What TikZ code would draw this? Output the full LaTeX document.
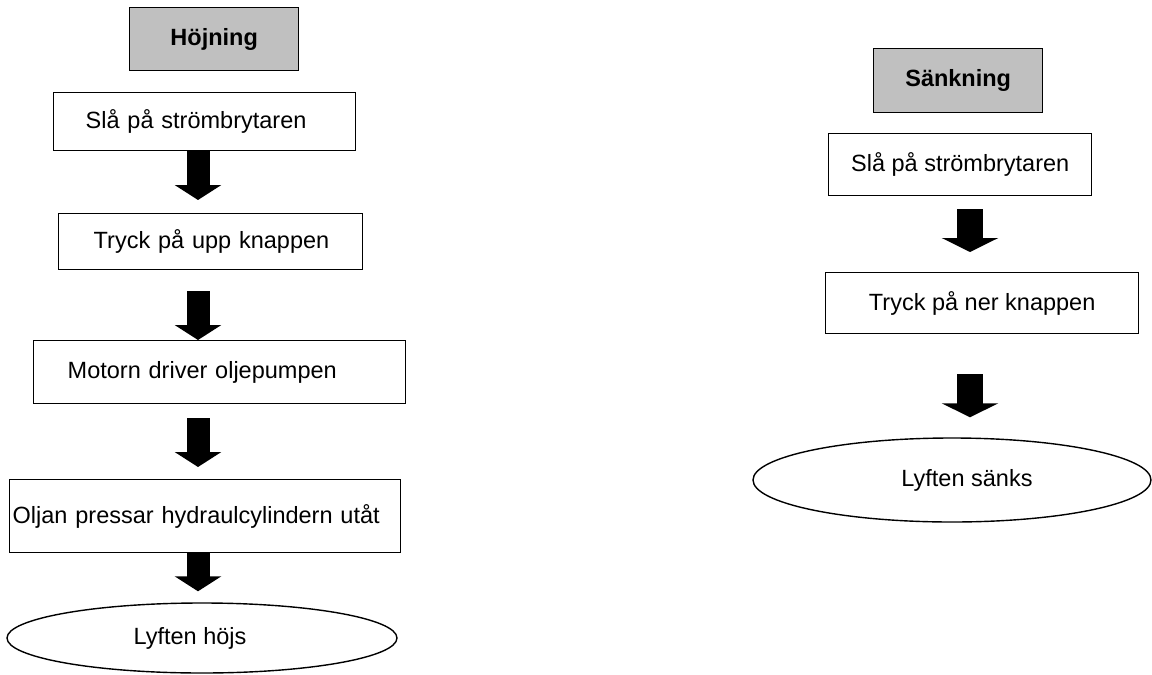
\documentclass[tikz,border=0pt]{standalone}
\usepackage{fontspec}
\setmainfont{Liberation Sans}
\usetikzlibrary{arrows.meta,shapes.geometric,calc}
\definecolor{hdrgray}{RGB}{192,192,192}
\begin{document}
\begin{tikzpicture}[x=1pt,y=-1pt,
  every node/.style={font=\fontsize{23.5}{28}\selectfont},
  box/.style={draw, line width=1.4pt, anchor=north west, inner ysep=0pt, align=left},
  cbox/.style={draw, line width=1.4pt, anchor=north west, inner sep=0pt, align=center},
  hdr/.style={draw, line width=1.4pt, anchor=north west, inner sep=0pt, fill=hdrgray, font=\fontsize{23.5}{28}\selectfont\bfseries},
  ell/.style={draw, ellipse, line width=1.4pt, inner sep=0pt},
  blkL/.style={line width=23pt, -{Triangle[width=46pt,length=15pt]}},
  blkR/.style={line width=26pt, -{Triangle[width=56pt,length=14pt]}}
]
\useasboundingbox (0,0) rectangle (1152,675);
\coordinate (lx) at (198,0);
\coordinate (rx) at (970,0);

% Left column: Höjning
\node[hdr, minimum width=169pt, minimum height=63pt] (h1) at (129,7) {Höjning};
\node[box, minimum height=58pt, inner xsep=32pt, text width=238pt] (b1) at (53,92) {Slå på strömbrytaren};
\node[box, minimum height=56pt, inner xsep=35pt, text width=234pt] (b2) at (58,213) {\mbox{Tryck på upp knappen}};
\node[box, minimum height=63pt, inner xsep=34pt, text width=304pt] (b3) at (33,340) {Motorn driver oljepumpen};
\node[box, minimum height=73pt, inner xsep=3pt, text width=385pt] (b4) at (9,479) {Oljan pressar hydraulcylindern utåt};
\node[ell, minimum width=390pt, minimum height=70pt] (e1) at (202,638) {Lyften höjs\hspace*{24pt}};

\draw[blkL, shorten >=13pt] (b1.south -| lx) -- (b2.north -| lx);
\draw[blkL, shorten <=21pt] (b2.south -| lx) -- (b3.north -| lx);
\draw[blkL, shorten <=14pt, shorten >=12pt] (b3.south -| lx) -- (b4.north -| lx);
\draw[blkL, shorten >=11pt] (b4.south -| lx) -- (e1.north -| lx);

% Right column: Sänkning
\node[hdr, minimum width=169pt, minimum height=64pt] (h2) at (873,48) {Sänkning};
\node[cbox, minimum width=263pt, minimum height=62pt] (r1) at (828,133) {Slå på strömbrytaren};
\node[cbox, minimum width=313pt, minimum height=61pt] (r2) at (825,272) {Tryck på ner knappen};
\node[ell, minimum width=398pt, minimum height=84pt] (e2) at (952,480) {\hspace*{30pt}Lyften sänks};

\draw[blkR, shorten <=13pt, shorten >=20pt] (r1.south -| rx) -- (r2.north -| rx);
\draw[blkR, shorten <=40pt, shorten >=20pt] (r2.south -| rx) -- (e2.north -| rx);
\end{tikzpicture}
\end{document}
